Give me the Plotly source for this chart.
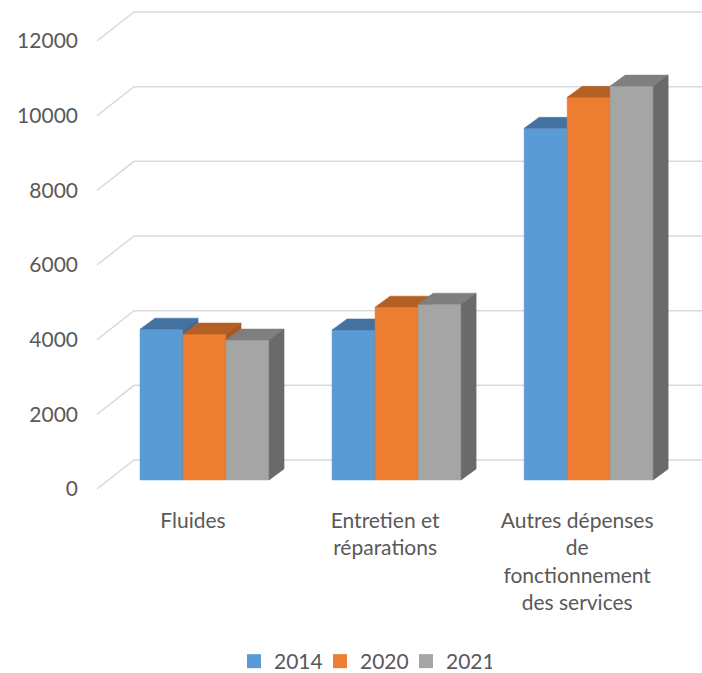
import plotly.graph_objects as go

# data
categories = ["Fluides", "Entretien et<br>réparations",
              "Autres dépenses<br>de<br>fonctionnement<br>des services"]
years = ["2014", "2020", "2021"]
v2014 = [4040, 4020, 9420]
v2020 = [3910, 4630, 10250]
v2021 = [3750, 4710, 10550]
y_ticks = [0, 2000, 4000, 6000, 8000, 10000, 12000]

series = [v2014, v2020, v2021]
front_colors = ["#5B9BD5", "#ED7D31", "#A5A5A5"]
top_colors = ["#4472A0", "#B45F24", "#7F7F7F"]
side_colors = ["#3F6B96", "#A85820", "#6A6A6A"]

W, H = 702, 673
margin = dict(l=97, r=0, t=10, b=173)
xr = [-0.5, 2.65]
yr = [-294.6, 12830]
# data units per pixel, used for the fake 3d depth
ux = (xr[1] - xr[0]) / (W - margin["l"] - margin["r"])
uy = (yr[1] - yr[0]) / (H - margin["t"] - margin["b"])

wall_dx, wall_dy = 37 * ux, 29 * uy
bar_dx, bar_dy = 11.5 * ux, 9 * uy
deep_dx, deep_dy = 15 * ux, 11 * uy
bw = 0.224

fig = go.Figure()

# gridlines on floor / back wall
for v in y_ticks:
    fig.add_trace(go.Scatter(
        x=[xr[0], xr[0] + wall_dx, xr[1]],
        y=[v, v + wall_dy, v + wall_dy],
        mode="lines", line=dict(color="#D9D9D9", width=1.5),
        hoverinfo="skip", showlegend=False))

def poly(xs, ys, color, text=None):
    fig.add_trace(go.Scatter(
        x=xs + [xs[0]], y=ys + [ys[0]], mode="lines", fill="toself",
        fillcolor=color, line=dict(color=color, width=0.5),
        hoverinfo="text" if text else "skip", text=text,
        hoveron="fills", showlegend=False))

# painter's order: left to right
for i in range(len(categories)):
    for k in range(len(years)):
        val = series[k][i]
        x0 = i + (k - 1.5) * bw + bar_dx
        x1 = x0 + bw
        y0 = bar_dy
        y1 = bar_dy + val
        # front
        poly([x0, x1, x1, x0], [y0, y0, y1, y1], front_colors[k],
             text=f"{years[k]} : {val}")
        # top
        poly([x0, x1, x1 + deep_dx, x0 + deep_dx],
             [y1, y1, y1 + deep_dy, y1 + deep_dy], top_colors[k])
        # side
        poly([x1, x1 + deep_dx, x1 + deep_dx, x1],
             [y0, y0 + deep_dy, y1 + deep_dy, y1], side_colors[k])

for k in range(len(years)):
    fig.add_trace(go.Scatter(
        x=[None], y=[None], mode="markers", name=years[k],
        marker=dict(symbol="square", size=14, color=front_colors[k])))

font = dict(family="Lato", size=21, color="#595959")
fig.update_layout(
    width=W, height=H, margin=margin, autosize=False,
    plot_bgcolor="white", paper_bgcolor="white",
    font=font,
    legend=dict(orientation="h", x=(234 - margin["l"]) / 605, xanchor="left",
                yref="container", y=11.5 / H, yanchor="middle",
                itemwidth=30, entrywidth=41, font=font, tracegroupgap=0,
                itemclick=False, itemdoubleclick=False),
)
fig.update_xaxes(range=xr, tickvals=[0, 1, 2], ticktext=categories,
                 showgrid=False, zeroline=False, showline=False,
                 ticks="", ticklabelstandoff=6, fixedrange=True,
                 automargin=False)
fig.update_yaxes(range=yr, tickvals=y_ticks, ticktext=[str(t) for t in y_ticks],
                 showgrid=False, zeroline=False, showline=False,
                 ticks="", ticklabelstandoff=18, fixedrange=True,
                 automargin=False)

# the page's default body margin shifts the chart, drop it
fig.write_html("out.html", config={"displayModeBar": False},
               post_script="document.body.style.margin='0';")
